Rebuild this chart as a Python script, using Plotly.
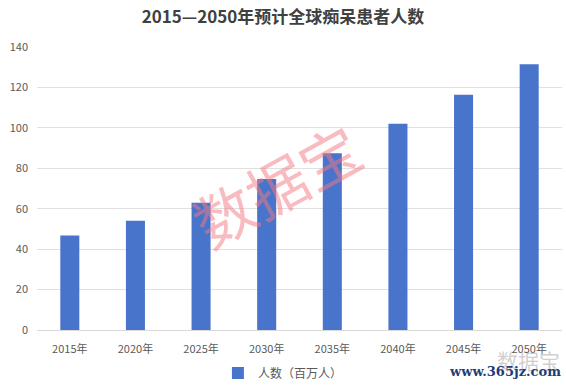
import plotly.graph_objects as go

years = ["2015年", "2020年", "2025年", "2030年", "2035年", "2040年", "2045年", "2050年"]
patients = [46.8, 54.0, 63.0, 74.7, 87.5, 102.0, 116.4, 131.5]
y_ticks = [0, 20, 40, 60, 80, 100, 120, 140]
series_name = "人数（百万人）"
title_text = "2015—2050年预计全球痴呆患者人数"

font_family = "Noto Sans CJK SC, Microsoft YaHei, sans-serif"

fig = go.Figure()
fig.add_trace(go.Bar(
    x=years, y=patients, name=series_name,
    marker=dict(color="#4874CB", line=dict(width=0)),
    width=0.29,
))

fig.update_layout(
    width=566, height=387,
    margin=dict(l=37, r=4, t=47, b=57, autoexpand=False),
    paper_bgcolor="white", plot_bgcolor="white",
    font=dict(family=font_family, size=11, color="#595959"),
    title=dict(text="<b>" + title_text + "</b>", x=0.5, xanchor="center",
               y=0.955, yanchor="middle",
               font=dict(family=font_family, size=17, color="#404040")),
    showlegend=True,
    legend=dict(orientation="h", xref="container", yref="container",
                x=0.385, xanchor="left", y=0.036, yanchor="middle",
                font=dict(size=12, color="#595959"), itemwidth=30),
    bargap=0.71,
)
fig.update_xaxes(showgrid=False, showline=True, linecolor="#D9D9D9", linewidth=1,
                 ticks="", ticklabelstandoff=9, automargin=False,
                 tickfont=dict(size=11, color="#595959"))
fig.update_yaxes(range=[0, 140], tickvals=y_ticks, showgrid=True, gridcolor="#E0E0E0",
                 gridwidth=1, zeroline=False, showline=False, ticks="",
                 ticklabelstandoff=8, automargin=False,
                 tickfont=dict(size=11, color="#595959"))

# watermark
fig.add_annotation(text="数据宝", x=0.455, y=0.516, xref="paper", yref="paper",
                   showarrow=False, textangle=-29,
                   font=dict(family=font_family, size=60, color="rgba(245,120,130,0.5)"))
fig.add_annotation(text="数据宝", x=1.0, y=-0.106, xref="paper", yref="paper",
                   xanchor="right", yanchor="middle", showarrow=False,
                   font=dict(family=font_family, size=21, color="rgba(175,175,175,0.6)"))
fig.add_annotation(text="<b>www.365jz.com</b>", x=1.002, y=-0.148, xref="paper", yref="paper",
                   xanchor="right", yanchor="middle", showarrow=False,
                   font=dict(family="DejaVu Serif, serif", size=13, color="#1F3D7A"))

fig.write_html("out.html", post_script="document.body.style.margin='0';",
               config={"displayModeBar": False})
